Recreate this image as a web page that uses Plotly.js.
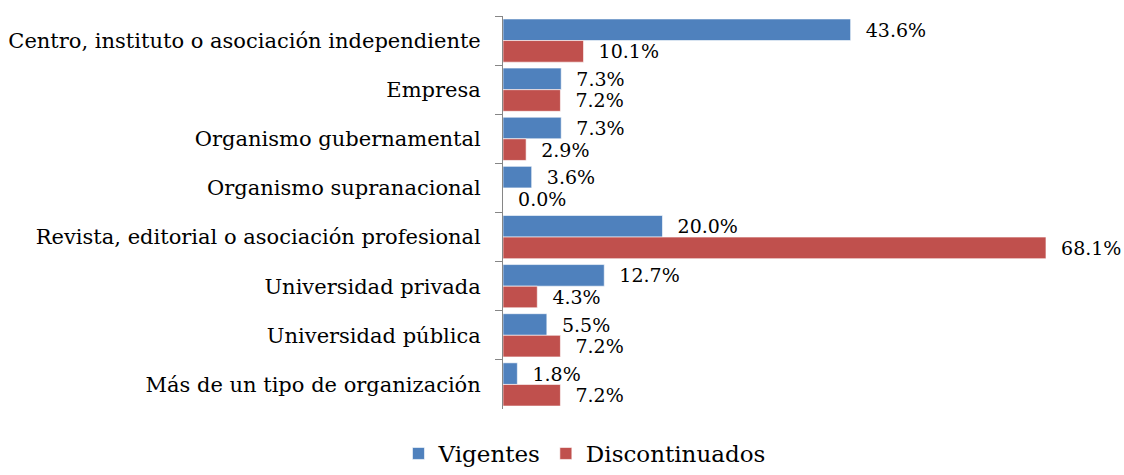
<!DOCTYPE html>
<html>
<head>
<meta charset="utf-8">
<script src="https://cdn.plot.ly/plotly-3.0.1.min.js"></script>
<style>html,body{margin:0;padding:0;background:#fff;}#chart{width:1124px;height:475px;}</style>
</head>
<body>
<div id="chart"></div>
<script>
const categories = [
  "Centro, instituto o asociación independiente",
  "Empresa",
  "Organismo gubernamental",
  "Organismo supranacional",
  "Revista, editorial o asociación profesional",
  "Universidad privada",
  "Universidad pública",
  "Más de un tipo de organización"
];
const vigentes = [43.6, 7.3, 7.3, 3.6, 20.0, 12.7, 5.5, 1.8];
const discontinuados = [10.1, 7.2, 2.9, 0.0, 68.1, 4.3, 7.2, 7.2];
const seriesNames = ["Vigentes", "Discontinuados"];

const FONT = "DejaVu Serif";
function labels(arr){ return arr.map(v => "\u00a0\u00a0" + v.toFixed(1) + "%"); }

const traces = [
  {type:"bar", orientation:"h", name:seriesNames[0], y:categories, x:vigentes,
   marker:{color:"#4F81BD", line:{color:"rgba(255,255,255,0.6)", width:1}},
   text:labels(vigentes), textposition:"outside", cliponaxis:false, constraintext:"none",
   textfont:{family:FONT, size:19, color:"#000"}, hoverinfo:"none"},
  {type:"bar", orientation:"h", name:seriesNames[1], y:categories, x:discontinuados,
   marker:{color:"#C0504D", line:{color:"rgba(255,255,255,0.6)", width:1}},
   text:labels(discontinuados), textposition:"outside", cliponaxis:false, constraintext:"none",
   textfont:{family:FONT, size:19, color:"#000"}, hoverinfo:"none"}
];

const layout = {
  width:1124, height:475,
  margin:{l:503, r:23, t:16, b:66},
  paper_bgcolor:"#fff", plot_bgcolor:"#fff",
  barmode:"group", bargap:0.12, bargroupgap:0,
  font:{family:FONT, color:"#000"},
  showlegend:true,
  legend:{orientation:"h", xref:"container", yref:"container", x:0.52, y:-0.02,
          xanchor:"center", yanchor:"bottom", font:{family:FONT, size:23, color:"#000"},
          traceorder:"normal"},
  xaxis:{visible:false, range:[0,75], fixedrange:true},
  yaxis:{type:"category", autorange:"reversed", showline:true, linecolor:"#868686", linewidth:1,
         ticks:"outside", tickson:"boundaries", ticklen:7, tickcolor:"#868686",
         ticklabelstandoff:17, showgrid:false, zeroline:false,
         tickfont:{family:FONT, size:21, color:"#000"}}
};

Plotly.newPlot("chart", traces, layout, {displayModeBar:false, staticPlot:true});
</script>
</body>
</html>
